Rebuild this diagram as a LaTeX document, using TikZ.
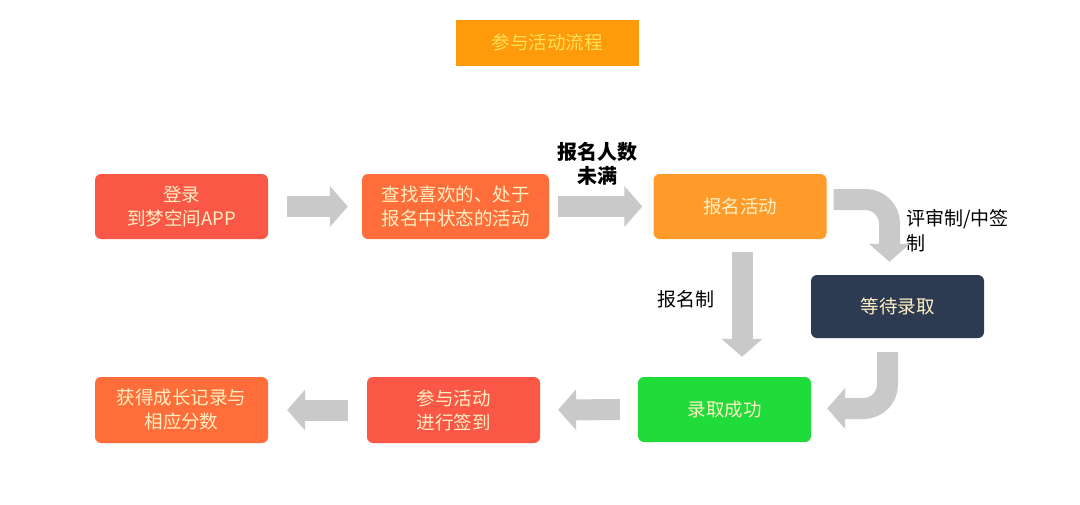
\documentclass[tikz,border=0pt]{standalone}
\usepackage{fontspec}
\setmainfont{Noto Sans CJK SC}
\usetikzlibrary{arrows.meta}

\definecolor{titleorange}{HTML}{FF9A0A}
\definecolor{titletext}{HTML}{FFE25A}
\definecolor{coral}{HTML}{FB5747}
\definecolor{redorange}{HTML}{FF6E3A}
\definecolor{lightorange}{HTML}{FF9B2B}
\definecolor{navy}{HTML}{2C3B52}
\definecolor{okgreen}{HTML}{1FDC3A}
\definecolor{boxtext}{HTML}{FFEFC2}
\definecolor{arrowgray}{HTML}{C9C9C9}

\begin{document}
\begin{tikzpicture}[x=1pt,y=-1pt]
\tikzset{stepbox/.style={rounded corners=6pt, minimum width=173pt, minimum height=65pt, inner sep=0pt,
    text=boxtext, align=center, font=\fontsize{18.5}{24}\selectfont}}
\tikzset{bigarrow/.style={draw=arrowgray, line width=21pt, -{Triangle[width=40pt,length=18pt]}}}
\tikzset{note/.style={inner sep=0pt, align=left, font=\fontsize{19}{25}\selectfont}}
\fill[white] (0,0) rectangle (1080,504);
\useasboundingbox (0,0) rectangle (1080,504);
% title
\node[fill=titleorange, minimum width=183pt, minimum height=46pt, inner sep=0pt,
  text=titletext, font=\fontsize{18.5}{22}\selectfont] (T) at (547,42.5) {参与活动流程};
% steps
\node[stepbox, fill=coral] (login) at (181.5,206.5) {登录\\到梦空间APP};
\node[stepbox, fill=redorange, minimum width=187pt] (find) at (455.5,206.5) {查找喜欢的、处于\\报名中状态的活动};
\node[stepbox, fill=lightorange] (signup) at (740,206.5) {报名活动};
\node[stepbox, fill=navy, minimum height=63pt] (wait) at (897.5,306.5) {等待录取};
\node[stepbox, fill=okgreen] (admit) at (724.5,409.5) {录取成功};
\node[stepbox, fill=coral, minimum height=66pt] (join) at (453.5,410) {参与活动\\进行签到};
\node[stepbox, fill=redorange, minimum height=66pt] (reward) at (181.5,410) {获得成长记录与\\相应分数};
% labels
\node[note, align=center, font=\fontsize{20}{24}\selectfont\bfseries] (full) at (597,164) {报名人数\\未满};
\node[note, anchor=north west] (review) at (906,209) {评审制/中签\\制};
\node[note] (direct) at (686,299) {报名制};
% arrows
\draw[bigarrow, shorten <=19pt, shorten >=14pt] (login) -- (find);
\draw[bigarrow, shorten <=9pt, shorten >=11pt] (find) -- (signup);
\draw[bigarrow, rounded corners=24pt] ([xshift=7pt,yshift=7pt]signup.east) -| ([xshift=-8pt,yshift=13pt]wait.north);
\draw[bigarrow, shorten <=13pt, shorten >=20pt] ([xshift=2pt]signup.south) -- ([xshift=2pt]signup.south |- admit.north);
\draw[bigarrow, rounded corners=24pt] ([xshift=-10pt,yshift=-14pt]wait.south) |- ([xshift=16pt,yshift=1pt]admit.east);
\draw[bigarrow, shorten <=18pt, shorten >=18pt] (admit) -- (join);
\draw[bigarrow, shorten <=19pt, shorten >=19pt] (join) -- (reward);
\end{tikzpicture}
\end{document}
